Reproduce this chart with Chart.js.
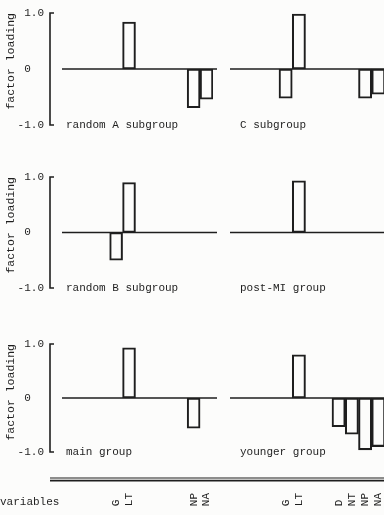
<!DOCTYPE html>
<html>
<head>
<meta charset="utf-8">
<script src="https://cdn.jsdelivr.net/npm/chart.js@4.4.1/dist/chart.umd.min.js"></script>
<style>
  html, body { margin: 0; padding: 0; background: #fcfcfb; overflow: hidden; }
  body { width: 384px; height: 515px; position: relative; }
  canvas { position: absolute; }
  #varLabel { position: absolute; left: 0px; top: 496px; font: 11px "Liberation Mono", monospace; color: #1e1e1e; }
</style>
</head>
<body>
<canvas id="cRandomA" width="222" height="130" style="left:0;top:0"></canvas>
<canvas id="cC" width="163" height="130" style="left:222px;top:0"></canvas>
<canvas id="cRandomB" width="222" height="135" style="left:0;top:160px"></canvas>
<canvas id="cPostMI" width="163" height="135" style="left:222px;top:160px"></canvas>
<canvas id="cMain" width="222" height="185" style="left:0;top:330px"></canvas>
<canvas id="cYounger" width="163" height="185" style="left:222px;top:330px"></canvas>
<div id="varLabel">variables</div>
<script>
// variables along the x axis (names only known where printed)
var variables = ['', '', '', '', 'G', 'LT', '', '', 'D', 'NT', 'NP', 'NA'];

// factor loadings per group (null = no loading drawn)
var randomA   = [null, null, null, null, null, 0.84, null, null, null, null, -0.69, -0.54];
var cSubgroup = [null, null, null, null, -0.52, 0.98, null, null, null, null, -0.52, -0.45];
var randomB   = [null, null, null, null, -0.50, 0.90, null, null, null, null, null, null];
var postMI    = [null, null, null, null, null, 0.93, null, null, null, null, null, null];
var mainGroup = [null, null, null, null, null, 0.93, null, null, null, null, -0.56, null];
var younger   = [null, null, null, null, null, 0.80, null, null, -0.53, -0.67, -0.96, -0.90];

var yTicks = [-1, 0, 1];

var ink = '#1e1e1e';
var mono = '"Liberation Mono", "DejaVu Sans Mono", monospace';

// a variable gets a label under a column if any panel in it has a loading there
function shownFor(cols) {
    return variables.map(function (v, i) {
        return cols.some(function (s) { return s[i] !== null; });
    });
}
var leftShown = shownFor([randomA, randomB, mainGroup]);
var rightShown = shownFor([cSubgroup, postMI, younger]);

var panelDeco = {
    id: 'panelDeco',
    beforeDatasetsDraw: function (chart, args, opts) {
        var c = chart.ctx, a = chart.chartArea, y = chart.scales.y;
        var y0 = y.getPixelForValue(0);
        var yTop = y.getPixelForValue(1);
        var yBot = y.getPixelForValue(-1);
        c.save();
        c.strokeStyle = ink;
        c.lineWidth = 1.4;
        c.beginPath();
        c.moveTo(a.left + 4, y0);
        c.lineTo(a.right + 4, y0);
        c.stroke();
        if (opts.bracket) {
            var bx = a.left - 8;
            c.lineWidth = 1.6;
            c.beginPath();
            c.moveTo(bx + 4, yTop);
            c.lineTo(bx, yTop);
            c.lineTo(bx, yBot);
            c.lineTo(bx + 4, yBot);
            c.stroke();
        }
        if (opts.rule) {
            c.lineWidth = 1.1;
            c.beginPath();
            c.moveTo(opts.ruleFrom, a.bottom + 26);
            c.lineTo(chart.width, a.bottom + 26);
            c.stroke();
            c.lineWidth = 1.7;
            c.beginPath();
            c.moveTo(opts.ruleFrom, a.bottom + 28.6);
            c.lineTo(chart.width, a.bottom + 28.6);
            c.stroke();
        }
        c.fillStyle = ink;
        c.font = '11px ' + mono;
        c.textBaseline = 'middle';
        c.textAlign = 'left';
        c.fillText(opts.title, a.left + opts.dx, yBot);
        c.restore();
    }
};

function makePanel(id, values, title, left, bottom, shown, padding) {
    return new Chart(document.getElementById(id), {
        type: 'bar',
        data: {
            labels: variables,
            datasets: [{
                data: values,
                backgroundColor: 'rgba(0, 0, 0, 0)',
                borderColor: ink,
                borderWidth: 1.4,
                borderSkipped: false,
                barPercentage: 1,
                categoryPercentage: 1
            }]
        },
        options: {
            responsive: false,
            animation: false,
            layout: { padding: padding },
            plugins: {
                legend: { display: false },
                tooltip: { enabled: false },
                panelDeco: {
                    title: title,
                    dx: left ? 8 : 14,
                    bracket: left,
                    rule: bottom,
                    ruleFrom: left ? 50 : 0
                }
            },
            scales: {
                x: {
                    display: bottom,
                    grid: { display: false, drawTicks: false },
                    border: { display: false },
                    ticks: {
                        autoSkip: false,
                        minRotation: 90,
                        maxRotation: 90,
                        padding: 41,
                        color: ink,
                        font: { family: mono, size: 11 },
                        callback: function (v, i) {
                            return shown[i] ? variables[i].padEnd(2) : '';
                        }
                    },
                    afterFit: function (s) {
                        if (!bottom) return;
                        s.height = 63;
                        s.paddingLeft = 0;
                        s.paddingRight = 0;
                    }
                },
                y: {
                    display: left,
                    min: -1,
                    max: 1,
                    afterBuildTicks: function (s) {
                        s.ticks = yTicks.map(function (v) { return { value: v }; });
                    },
                    grid: { display: false, drawTicks: false },
                    border: { display: false },
                    ticks: {
                        padding: 14,
                        color: ink,
                        font: { family: mono, size: 11 },
                        callback: function (v) {
                            return v === 0 ? '0  ' : v.toFixed(1);
                        }
                    },
                    title: {
                        display: true,
                        text: 'factor loading',
                        align: 'end',
                        color: ink,
                        font: { family: mono, size: 11.5 },
                        padding: { top: 4, bottom: 0 }
                    },
                    afterFit: function (s) {
                        if (!left) return;
                        s.width = 58;
                        s.paddingTop = 0;
                        s.paddingBottom = 0;
                    }
                }
            }
        },
        plugins: [panelDeco]
    });
}

makePanel('cRandomA', randomA, 'random A subgroup', true, false, leftShown, { top: 13, bottom: 5, left: 0, right: 9 });
makePanel('cC', cSubgroup, 'C subgroup', false, false, rightShown, { top: 13, bottom: 5, left: 4, right: 0 });
makePanel('cRandomB', randomB, 'random B subgroup', true, false, leftShown, { top: 17, bottom: 7, left: 0, right: 9 });
makePanel('cPostMI', postMI, 'post-MI group', false, false, rightShown, { top: 17, bottom: 7, left: 4, right: 0 });
makePanel('cMain', mainGroup, 'main group', true, true, leftShown, { top: 14, bottom: 0, left: 0, right: 9 });
makePanel('cYounger', younger, 'younger group', false, true, rightShown, { top: 14, bottom: 0, left: 4, right: 0 });
</script>
</body>
</html>
